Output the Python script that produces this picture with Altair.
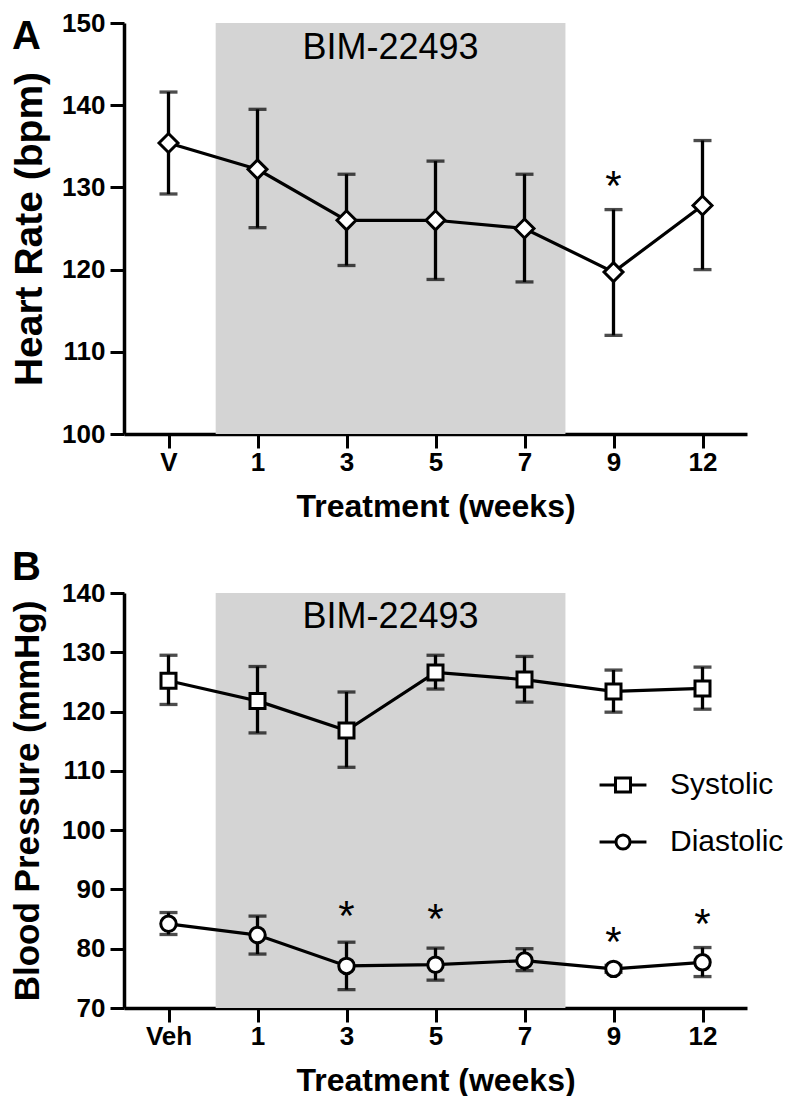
import altair as alt
import pandas as pd

# ---------------- data ----------------
weeks_a = ["V", "1", "3", "5", "7", "9", "12"]
weeks_b = ["Veh", "1", "3", "5", "7", "9", "12"]

hr_mean = [135.4, 132.2, 126.0, 126.0, 125.0, 119.7, 127.8]
hr_low = [129.2, 125.1, 120.5, 118.8, 118.5, 112.0, 120.0]
hr_high = [141.6, 139.5, 131.6, 133.2, 131.6, 127.3, 135.7]

sys_mean = [125.2, 121.8, 116.8, 126.6, 125.4, 123.4, 123.9]
sys_low = [121.2, 116.4, 110.6, 123.8, 121.6, 119.9, 120.4]
sys_high = [129.5, 127.6, 123.3, 129.5, 129.3, 127.0, 127.5]

dia_mean = [84.2, 82.3, 77.1, 77.3, 78.0, 76.6, 77.7]
dia_low = [82.4, 79.1, 73.1, 74.7, 76.3, 76.0, 75.3]
dia_high = [86.1, 85.5, 81.1, 80.1, 80.0, 77.2, 80.2]

stars_a_idx = [5]
stars_a_y = [130.9]
stars_b_idx = [2, 3, 5, 6]
stars_b_y = [86.6, 86.1, 82.2, 85.2]

shade_start, shade_end = 0.53, 4.46   # in category-index units
shade_label = "BIM-22493"

FONT = "Liberation Sans"
SHADE = "#d4d4d4"


def make_panel(labels, series, ydom, yticks, ytitle, ytitle_size, ytitle_pad,
               bim_y, star_idx, star_y, letter, letter_y, height, legend=False):
    width = 623
    label_arr = "[" + ",".join("'%s'" % l for l in labels) + "]"

    def X(field):
        return alt.X(field, type="quantitative",
                     scale=alt.Scale(domain=[-0.5, 6.5], nice=False, zero=False),
                     axis=alt.Axis(values=list(range(len(labels))),
                                   labelExpr=label_arr + "[datum.value]",
                                   title="Treatment (weeks)", titleFontSize=32,
                                   labelPadding=1, titlePadding=16))

    def Y(field):
        return alt.Y(field, type="quantitative",
                     scale=alt.Scale(domain=ydom, nice=False, zero=False),
                     axis=alt.Axis(values=yticks, title=ytitle,
                                   titleFontSize=ytitle_size, labelPadding=5,
                                   titlePadding=ytitle_pad))

    shade_df = pd.DataFrame({"x": [shade_start], "x2": [shade_end],
                             "y": [ydom[0]], "y2": [ydom[1]]})
    shade = alt.Chart(shade_df).mark_rect(color=SHADE).encode(
        x=X("x"), x2="x2", y=Y("y"), y2="y2")

    bim_df = pd.DataFrame({"x": [(shade_start + shade_end) / 2], "y": [bim_y],
                           "t": [shade_label]})
    bim = alt.Chart(bim_df).mark_text(font=FONT, fontSize=36, color="black",
                                      baseline="middle").encode(
        x=X("x"), y=Y("y"), text="t:N")

    layers = [shade, bim]
    for name, mean, low, high, shape, size in series:
        df = pd.DataFrame({"i": list(range(len(labels))), "m": mean,
                           "lo": low, "hi": high, "s": name})
        base = alt.Chart(df)
        layers.append(base.mark_rule(color="black", strokeWidth=3.3).encode(
            x=X("i"), y=Y("lo"), y2="hi"))
        layers.append(base.mark_tick(color="black", orient="horizontal",
                                     size=18, thickness=3.3).encode(x=X("i"), y=Y("lo")))
        layers.append(base.mark_tick(color="black", orient="horizontal",
                                     size=18, thickness=3.3).encode(x=X("i"), y=Y("hi")))
        layers.append(base.mark_line(color="black", strokeWidth=3.2).encode(
            x=X("i"), y=Y("m")))
        layers.append(base.mark_point(shape=shape, size=size, filled=True,
                                      fill="white", stroke="black",
                                      strokeWidth=3, opacity=1).encode(
            x=X("i"), y=Y("m")))

    star_df = pd.DataFrame({"i": star_idx, "y": star_y, "t": ["*"] * len(star_idx)})
    layers.append(alt.Chart(star_df).mark_text(font=FONT, fontSize=42,
                                               color="black", baseline="middle",
                                               dy=7).encode(
        x=X("i"), y=Y("y"), text="t:N"))

    letter_df = pd.DataFrame({"t": [letter]})
    layers.append(alt.Chart(letter_df).mark_text(
        font=FONT, fontSize=40, fontWeight="bold", color="black",
        align="left", baseline="alphabetic").encode(
        x=alt.value(-112), y=alt.value(letter_y), text="t:N"))

    if legend:
        names = [s[0] for s in series]
        sq = "M-1,0H-0.32M0.32,0H1M-0.32,-0.3H0.32V0.3H-0.32Z"
        ci = "M-1,0H-0.3M0.3,0H1M-0.3,0A0.3,0.3,0,1,1,0.3,0A0.3,0.3,0,1,1,-0.3,0Z"
        leg_df = pd.DataFrame({"i": [0], "m": [ydom[0]], "s": [names[0]]})
        layers.append(alt.Chart(leg_df).transform_filter("false").mark_point(
            filled=False, color="black", strokeWidth=3, opacity=1
        ).encode(
            x=X("i"), y=Y("m"),
            shape=alt.Shape("s:N", scale=alt.Scale(domain=names, range=[sq, ci]),
                            legend=alt.Legend(
                                title=None, orient="none", legendX=474, legendY=167,
                                symbolSize=2200, symbolStrokeWidth=3,
                                symbolStrokeColor="black",
                                symbolOpacity=1,
                                labelFont=FONT, labelFontSize=30,
                                labelColor="black", labelOffset=22,
                                rowPadding=17, padding=0))))

    return alt.layer(*layers).properties(width=width, height=height)


panel_a = make_panel(weeks_a,
                     [("Heart Rate", hr_mean, hr_low, hr_high, "diamond", 360)],
                     [100, 150], [100, 110, 120, 130, 140, 150],
                     "Heart Rate (bpm)", 39, 12, 147.0,
                     stars_a_idx, stars_a_y, "A", 26, 411)

panel_b = make_panel(weeks_b,
                     [("Systolic", sys_mean, sys_low, sys_high, "square", 225),
                      ("Diastolic", dia_mean, dia_low, dia_high, "circle", 240)],
                     [70, 140], [70, 80, 90, 100, 110, 120, 130, 140],
                     "Blood Pressure (mmHg)", 35, 16, 136.0,
                     stars_b_idx, stars_b_y, "B", -13, 415, legend=True)

chart = alt.vconcat(panel_a, panel_b, spacing=26).properties(
    padding={"left": 2, "top": 2, "right": 0, "bottom": 0}
).resolve_scale(shape="independent").configure_view(stroke=None).configure_axis(
    grid=False, domainColor="black", domainWidth=3.5, tickColor="black",
    tickWidth=3, tickSize=14, labelFont=FONT, labelFontWeight="bold",
    labelFontSize=26, labelColor="black", titleFont=FONT,
    titleFontWeight="bold", titleColor="black"
)

chart.save("out.html", embed_options={"renderer": "svg", "actions": False})
